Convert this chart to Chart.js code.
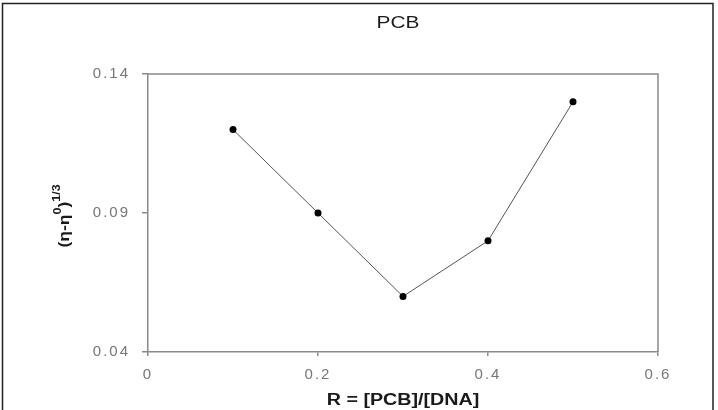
<!DOCTYPE html>
<html>
<head>
<meta charset="utf-8">
<script src="https://cdn.jsdelivr.net/npm/chart.js@4"></script>
<style>
  html, body { margin: 0; padding: 0; background: #fff; }
  #wrap { width: 718px; height: 410px; }
</style>
</head>
<body>
<div id="wrap"><canvas id="pcbChart" width="718" height="410"></canvas></div>
<script>
const ratios = [0.1, 0.2, 0.3, 0.4, 0.5];
const viscosity = [0.120, 0.090, 0.060, 0.080, 0.130];
const xTicks = [0, 0.2, 0.4, 0.6];
const yTicks = [0.04, 0.09, 0.14];

const FONT = 'Liberation Sans, Arial, sans-serif';
const AXIS_GREY = '#8a8a8a';

// draws text stretched along its own direction (the source uses a wide face)
function wideText(c, text, x, y, stretch) {
  c.save();
  c.translate(x, y);
  c.scale(stretch, 1);
  c.fillText(text, 0, 0);
  c.restore();
}

// wider tick lettering
const spacing = {
  id: 'spacing',
  beforeDraw(chart) { chart.ctx.letterSpacing = '2px'; },
  afterDraw(chart) { chart.ctx.letterSpacing = '0px'; }
};

// frame, title and axis titles drawn on the canvas
const decorations = {
  id: 'decorations',
  afterDraw(chart) {
    const c = chart.ctx;
    const a = chart.chartArea;
    c.save();
    c.letterSpacing = '0px';

    c.strokeStyle = '#222';
    c.lineWidth = 1.5;
    c.strokeRect(2.5, 3.5, 710.5, 430);

    c.strokeStyle = AXIS_GREY;
    c.lineWidth = 1.5;
    c.beginPath();
    c.moveTo(a.left, a.top);
    c.lineTo(a.right, a.top);
    c.lineTo(a.right, a.bottom);
    c.stroke();

    c.fillStyle = '#1a1a1a';
    c.textAlign = 'center';
    c.textBaseline = 'middle';
    c.font = '16px ' + FONT;
    wideText(c, 'PCB', 398, 24, 1.3);

    c.font = 'bold 16px ' + FONT;
    wideText(c, 'R = [PCB]/[DNA]', (a.left + a.right) / 2, 401, 1.23);

    // y title: (η-η0)1/3 with superscripts, rotated
    c.translate(65, 216);
    c.rotate(-Math.PI / 2);
    c.scale(1.25, 1);
    const parts = [
      { t: '(\u03b7-\u03b7', size: 14, dy: 0 },
      { t: '0', size: 10, dy: -7 },
      { t: ')', size: 14, dy: 0 },
      { t: '1/3', size: 10, dy: -8 }
    ];
    let total = 0;
    parts.forEach(p => {
      c.font = 'bold ' + p.size + 'px ' + FONT;
      p.w = c.measureText(p.t).width;
      total += p.w;
    });
    let x = -total / 2;
    c.textAlign = 'left';
    parts.forEach(p => {
      c.font = 'bold ' + p.size + 'px ' + FONT;
      c.fillText(p.t, x, p.dy);
      x += p.w;
    });

    c.restore();
  }
};

const ctx = document.getElementById('pcbChart').getContext('2d');

new Chart(ctx, {
  type: 'scatter',
  data: {
    datasets: [{
      label: 'PCB',
      data: ratios.map((r, i) => ({ x: r, y: viscosity[i] })),
      showLine: true,
      borderColor: '#555',
      borderWidth: 1,
      pointRadius: 3.5,
      pointBackgroundColor: '#000',
      pointBorderColor: '#000',
      pointBorderWidth: 0
    }]
  },
  options: {
    responsive: false,
    animation: false,
    layout: { padding: { left: 0, right: 60, top: 74, bottom: 0 } },
    plugins: {
      legend: { display: false },
      title: { display: false },
      tooltip: { enabled: false }
    },
    scales: {
      x: {
        type: 'linear',
        min: 0,
        max: 0.6,
        afterFit(scale) { scale.height = 58; },
        afterBuildTicks(scale) { scale.ticks = xTicks.map(v => ({ value: v })); },
        ticks: {
          padding: 10,
          color: '#777',
          font: { family: FONT, size: 15 },
          callback: v => String(v)
        },
        grid: { drawOnChartArea: false, drawTicks: true, tickLength: 4, color: AXIS_GREY, lineWidth: 1.5 },
        border: { color: AXIS_GREY, width: 1.5 }
      },
      y: {
        type: 'linear',
        min: 0.04,
        max: 0.14,
        afterFit(scale) { scale.width = 148; },
        afterBuildTicks(scale) { scale.ticks = yTicks.map(v => ({ value: v })); },
        ticks: {
          padding: 12,
          color: '#777',
          font: { family: FONT, size: 15 },
          callback: v => v.toFixed(2)
        },
        grid: { drawOnChartArea: false, drawTicks: true, tickLength: 6, color: AXIS_GREY, lineWidth: 1.5 },
        border: { color: AXIS_GREY, width: 1.5 }
      }
    }
  },
  plugins: [spacing, decorations]
});
</script>
</body>
</html>
